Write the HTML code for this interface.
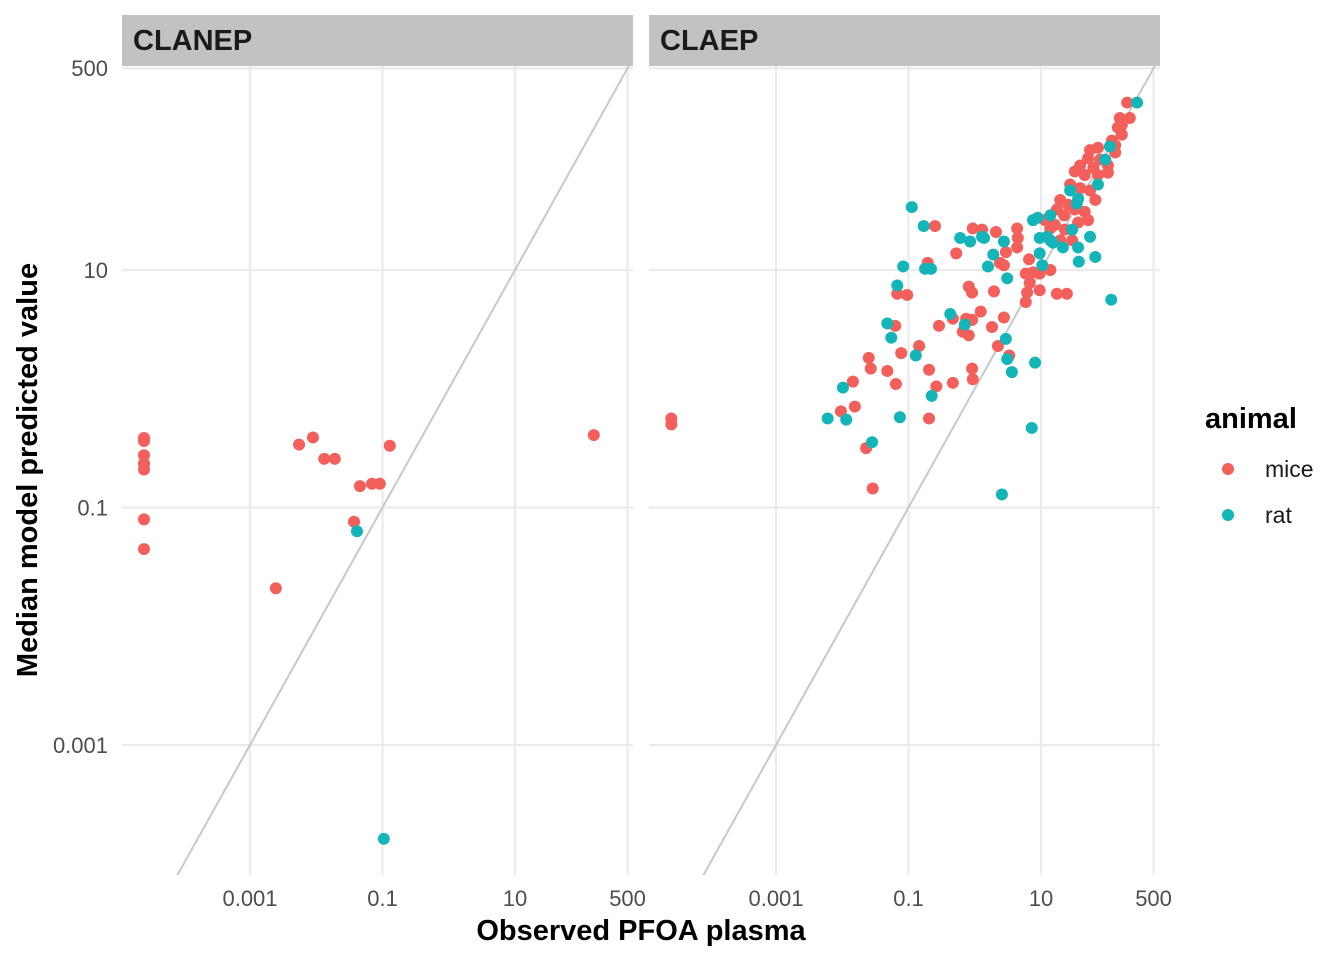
<!DOCTYPE html>
<html><head><meta charset="utf-8"><style>
html,body{margin:0;padding:0;background:#fff;}
svg{display:block;font-family:"Liberation Sans",Arial,sans-serif;}
</style></head><body>
<svg id="chart" width="1344" height="960" xmlns="http://www.w3.org/2000/svg"></svg>
<script>
// data in log10 units
const xTickValues=[0.001,0.1,10,500];
const xTickLabels=["0.001","0.1","10","500"];
const yTickValues=[0.001,0.1,10,500];
const yTickLabels=["0.001","0.1","10","500"];
const panelNames=["CLANEP","CLAEP"];
const clanepMiceX=[-4.6,-4.6,-4.6,-4.6,-4.6,-4.6,-4.6,-2.61,-2.26,-2.05,-1.88,-1.72,-1.34,-1.16,-1.04,-0.89,-1.43,2.19];
const clanepMiceY=[-0.415,-0.44,-0.56,-0.63,-0.68,-1.1,-1.35,-1.68,-0.47,-0.41,-0.59,-0.59,-0.82,-0.8,-0.8,-0.48,-1.12,-0.39];
const clanepRatX=[-1.385,-0.98];
const clanepRatY=[-1.2,-3.79];
const claepMiceX=[-4.58,-4.58,-0.6,-0.03,0.11,0.32,0.64,0.65,0.64,0.47,-0.28,-0.71,0.38,0.44,0.82,0.77,0.88,1.14,0.98,0.83,0.79,0.98,0.77,1.24,1.39,-0.09,-0.04,0.29,-1.17,-1.02,0.09,0.44,-0.33,-0.13,-0.04,-0.54,0.26,-1.2,-0.18,-0.09,-0.84,-1.11,0.35,0.52,-1.6,-1.57,-1.32,-0.69,-0.04,-0.03,-0.33,-0.58,-1.19,-1.84,-1.81,-2.02,-0.69,-1.64,-1.54,2.30,2.19,2.34,2.16,2.22,2.07,2.12,1.86,1.74,1.71,1.89,1.59,1.79,1.51,1.66,1.86,2.01,1.44,1.59,1.74,1.29,1.41,1.51,1.66,1.82,1.24,1.35,1.56,1.71,1.06,1.21,1.36,1.47,1.29,1.14,2.01,2.12,2.22];
const claepMiceY=[-0.25,-0.3,1.37,1.35,1.34,1.32,1.35,1.27,1.19,1.15,1.14,1.06,1.06,1.04,1.09,0.97,0.98,1.0,0.97,0.89,0.81,0.83,0.73,0.8,0.8,0.86,0.81,0.82,0.8,0.79,0.65,0.6,0.59,0.59,0.58,0.53,0.52,0.53,0.48,0.45,0.36,0.3,0.36,0.28,0.26,0.17,0.15,0.16,0.17,0.08,0.05,0.02,0.04,0.06,-0.15,-0.19,-0.25,-0.5,-0.84,2.41,2.28,2.28,2.2,2.14,2.09,1.99,2.03,2.01,1.94,1.93,1.88,1.86,1.83,1.8,1.8,1.82,1.72,1.69,1.67,1.59,1.55,1.51,1.49,1.59,1.51,1.46,1.4,1.42,1.42,1.38,1.34,1.25,1.25,1.35,1.88,2.05,2.22];
const claepRatX=[-0.95,-0.77,-0.22,-0.07,0.11,0.14,0.44,0.28,0.2,0.49,-1.08,-0.75,-0.66,-1.17,-0.37,-0.15,-1.32,-1.26,-0.89,0.47,0.49,0.56,0.91,-1.99,-2.22,-1.94,-1.13,-0.65,-1.55,0.86,0.41,2.06,1.82,1.57,1.74,0.88,0.95,1.14,0.98,1.02,1.18,1.33,1.56,1.47,1.54,1.14,1.09,0.98,2.45,2.04,1.86,1.44,1.56,1.97];
const claepRatY=[1.53,1.37,1.27,1.24,1.28,1.27,1.24,1.13,1.03,0.93,1.03,1.01,1.01,0.87,0.63,0.54,0.55,0.43,0.28,0.42,0.25,0.14,0.22,0.01,-0.25,-0.26,-0.24,-0.06,-0.45,-0.33,-0.89,0.75,1.11,1.07,1.28,1.42,1.44,1.46,1.14,1.04,1.23,1.19,1.19,1.34,1.56,1.25,1.28,1.27,2.41,2.04,1.72,1.67,1.6,1.93];

const NS="http://www.w3.org/2000/svg";
const svg=document.getElementById('chart');
function mk(tag,attrs,parent){const e=document.createElementNS(NS,tag);for(const k in attrs)e.setAttribute(k,attrs[k]);(parent||svg).appendChild(e);return e;}
const panels=[{x0:122,x1:633,ref:250},{x0:649,x1:1160,ref:776}];
const PXD=66.25, PYD=118.75, PTOP=66, PBOT=875;
function xScale(p,lv){return panels[p].ref+(lv+3)*PXD;}
function yScale(lv){return 270-(lv-1)*PYD;}
const colors={mice:"#F35F5A",rat:"#14B5B8"};
const seriesByPanel=[[[clanepMiceX,clanepMiceY,'mice'],[clanepRatX,clanepRatY,'rat']],[[claepMiceX,claepMiceY,'mice'],[claepRatX,claepRatY,'rat']]];

panels.forEach((pn,p)=>{
  const g=mk('g',{});
  
  
  const clipId='clip'+p;
  const cp=mk('clipPath',{id:clipId},g);mk('rect',{x:pn.x0,y:PTOP,width:pn.x1-pn.x0,height:PBOT-PTOP},cp);
  xTickValues.forEach(v=>{const x=xScale(p,Math.log10(v));const l=mk('line',{x1:x,x2:x,y1:PTOP,y2:PBOT,stroke:'#ebebeb','stroke-width':2.2},g);
    });
  yTickValues.forEach(v=>{const y=yScale(Math.log10(v));const l=mk('line',{x1:pn.x0,x2:pn.x1,y1:y,y2:y,stroke:'#ebebeb','stroke-width':2.2},g);
    });
  const lo=-5,hi=3;
  const id=mk('line',{x1:xScale(p,lo),y1:yScale(lo),x2:xScale(p,hi),y2:yScale(hi),stroke:'#c8c8c8','stroke-width':2,'clip-path':'url(#'+clipId+')'},g);
  
  const st=mk('rect',{x:pn.x0,y:15,width:pn.x1-pn.x0,height:51,fill:'#c2c2c2'},g);
  
  const stt=mk('text',{x:pn.x0+11,y:50,'font-size':29,'font-weight':'bold',fill:'#1a1a1a'},g);stt.textContent=panelNames[p];
  
  xTickValues.forEach((v,i)=>{const t=mk('text',{x:xScale(p,Math.log10(v)),y:906,'font-size':22,fill:'#4d4d4d','text-anchor':'middle'},g);t.textContent=xTickLabels[i];
    });
  seriesByPanel[p].forEach(([xs,ys,nm])=>{
    xs.forEach((xv,i)=>{const c=mk('circle',{cx:xScale(p,xv),cy:yScale(ys[i]),r:6,fill:colors[nm]},g);
      });
  });
});
yTickValues.forEach((v,i)=>{const t=mk('text',{x:108,y:yScale(Math.log10(v))+8,'font-size':22,fill:'#4d4d4d','text-anchor':'end'});t.textContent=yTickLabels[i];
  });
const xt=mk('text',{x:641,y:940,'font-size':29,'font-weight':'bold','text-anchor':'middle',fill:'#000'});xt.textContent='Observed PFOA plasma';

const yt=mk('text',{x:0,y:0,'font-size':29,'font-weight':'bold','text-anchor':'middle',fill:'#000',transform:'translate(37,470) rotate(-90)'});yt.textContent='Median model predicted value';

const lg=mk('g',{});
const lt=mk('text',{x:1205,y:428,'font-size':29,'font-weight':'bold',fill:'#000'},lg);lt.textContent='animal';

[['mice',469],['rat',515]].forEach(([nm,y])=>{
  const c=mk('circle',{cx:1228,cy:y,r:6,fill:colors[nm]},lg);
  const t=mk('text',{x:1265,y:y+8,'font-size':23,fill:'#1a1a1a'},lg);t.textContent=nm;
});
</script>
</body></html>
